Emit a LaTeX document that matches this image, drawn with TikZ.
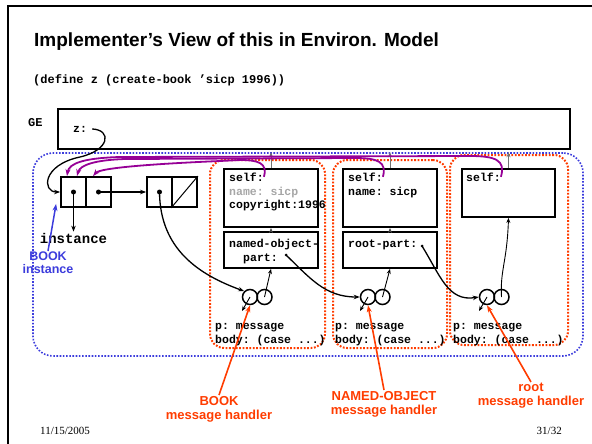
\documentclass[tikz,border=0pt]{standalone}
\usepackage{fontspec}
\setmainfont{Liberation Sans}
\setmonofont{Liberation Mono}
\newfontfamily\footfont{Liberation Serif}
\usetikzlibrary{arrows.meta}

\definecolor{envblue}{RGB}{60,60,220}
\definecolor{hred}{RGB}{255,60,0}
\definecolor{selfpurple}{RGB}{150,0,150}

\begin{document}
\begin{tikzpicture}[x=1pt,y=-1pt,
  box/.style={draw, line width=1.8pt, inner sep=0pt},
  code/.style={font=\ttfamily\bfseries\fontsize{11.5}{13}\selectfont, inner sep=0pt, anchor=base west},
  ptr/.style={-{Stealth[length=6pt,width=4.5pt]}, line width=1.3pt},
  thin ptr/.style={-{Stealth[length=5pt,width=4pt]}, line width=0.9pt},
  up ptr/.style={-{Stealth[length=5pt,width=4pt]}, line width=1pt, draw=black!55},
  self ptr/.style={-{Stealth[length=7pt,width=5pt]}, line width=1.8pt, draw=selfpurple},
  red ptr/.style={-{Stealth[length=7pt,width=5pt]}, line width=1.6pt, draw=hred},
  blue ptr/.style={-{Stealth[length=7pt,width=5pt]}, line width=1.5pt, draw=envblue},
  handler/.style={circle, draw, line width=1.5pt, minimum size=15pt, inner sep=0pt},
  ptrdot/.style={circle, fill, inner sep=0pt, minimum size=5pt},
  envbox/.style={draw=envblue, line width=1.6pt, dash pattern=on 1.6pt off 1.6pt, rounded corners=20pt, inner sep=0pt},
  handlerbox/.style={draw=hred, line width=2pt, dash pattern=on 1.8pt off 1.6pt, rounded corners=14pt, inner sep=0pt},
  redlab/.style={text=hred, font=\bfseries\fontsize{13}{14}\selectfont, align=center, inner sep=1pt, anchor=north},
]
\useasboundingbox (0,0) rectangle (592,444);

% slide frame
\draw[line width=2pt] (592,6) -- (8,6) -- (8,444);

% heading and expression
\node[anchor=base west, inner sep=0pt, font=\bfseries\fontsize{19}{22}\selectfont] (title) at (34,47) {Implementer’s View of this in Environ. Model};
\node[code, font=\ttfamily\bfseries\fontsize{12}{14}\selectfont] (expr) at (33,84) {(define z (create-book ’sicp 1996))};

% global environment
\node[code, font=\ttfamily\bfseries\fontsize{12}{14}\selectfont] (gelab) at (28,126) {GE};
\node[box, minimum width=512pt, minimum height=40pt] (ge) at (314,129) {};
\node[code] (zlab) at (73,132) {z:};

% environment regions
\node[envbox, minimum width=550pt, minimum height=203pt] (env) at (308,254.5) {};
\node[handlerbox, minimum width=115pt, minimum height=188pt] (rA) at (267.5,254) {};
\node[handlerbox, minimum width=114pt, minimum height=188pt] (rC) at (390,254) {};
\node[handlerbox, minimum width=118pt, minimum height=190pt] (rE) at (509,250) {};

% pairs
\node[box, minimum width=25pt, minimum height=30pt] (p1a) at (73.5,192) {};
\node[box, minimum width=25pt, minimum height=30pt] (p1b) at (98.5,192) {};
\node[box, minimum width=25pt, minimum height=30pt] (p2a) at (159.5,192) {};
\node[box, minimum width=25pt, minimum height=30pt] (p2b) at (184.5,192) {};
\draw[line width=1pt] (p2b.south west) -- (p2b.north east);
\node[ptrdot] (d1a) at (p1a.center) {};
\node[ptrdot] (d1b) at (p1b.center) {};
\node[ptrdot] (d2a) at (p2a.center) {};

\node[anchor=base, inner sep=1pt, font=\ttfamily\bfseries\fontsize{14}{16}\selectfont] (inst) at (73.5,243) {instance};
\node[text=envblue, font=\bfseries\fontsize{12.5}{12.5}\selectfont, align=center, inner sep=1pt, anchor=north] (bookinst) at (48,251) {BOOK\\instance};

% frames
\node[box, minimum width=94pt, minimum height=58pt] (fA) at (271,198) {};
\node[box, minimum width=94pt, minimum height=36pt] (pA) at (271,250) {};
\node[box, minimum width=94pt, minimum height=58pt] (fC) at (390,198) {};
\node[box, minimum width=94pt, minimum height=36pt] (pC) at (390,250) {};
\node[box, minimum width=93pt, minimum height=48pt] (fE) at (508.5,193) {};

\node[code] (sA) at (229,181) {self:};
\node[code, text=black!35] (nA) at (229,195) {name: sicp};
\node[code] (cA) at (229,208) {copyright:1996};
\node[code] (noA) at (229,247) {named-object-};
\node[code] (partA) at (243,261) {part:};
\node[code] (sC) at (348,181) {self:};
\node[code] (nC) at (348,195) {name: sicp};
\node[code] (partC) at (348,247) {root-part:};
\node[code] (sE) at (466,181) {self:};
\node[ptrdot, minimum size=3pt] (dA) at (286,255) {};
\node[ptrdot, minimum size=3pt] (dC) at (422,246) {};

% procedure objects
\node[handler] (h1a) at (250,297) {};
\node[handler] (h1b) at (264.5,297) {};
\node[handler] (h2a) at (368,297) {};
\node[handler] (h2b) at (382.5,297) {};
\node[handler] (h3a) at (487,297) {};
\node[handler] (h3b) at (501.5,297) {};

\node[code] (pa1) at (215,329) {p: message};
\node[code] (ba1) at (215,343) {body: (case ...)};
\node[code] (pa2) at (335,329) {p: message};
\node[code] (ba2) at (335,343) {body: (case ...)};
\node[code] (pa3) at (453,329) {p: message};
\node[code] (ba3) at (453,343) {body: (case ...)};

% pointers
\draw[ptr] ([xshift=5pt]zlab.east) .. controls (112,130) and (110,150) .. (80,157) .. controls (42,165) and (42,192) .. (p1a.west);
\draw[ptr] (d1b.center) -- (p2a.west);
\draw[ptr] (d1a.center) -- (inst.north);
\draw[ptr] (d2a.center) .. controls (160,250) and (200,275) .. (h1a.north west);
\draw[ptr] (dA.center) .. controls (310,278) and (325,297) .. (h2a.west);
\draw[ptr] (dC.center) .. controls (440,275) and (448,302) .. (h3a.west);

\draw[thin ptr] (h1a.center) -- ([xshift=-8pt,yshift=-14pt]h1a.center);
\draw[thin ptr] (h2a.center) -- ([xshift=-8pt,yshift=-14pt]h2a.center);
\draw[thin ptr] (h3a.center) -- ([xshift=-8pt,yshift=-14pt]h3a.center);
\draw[thin ptr] (h1b.center) -- (pA.south);
\draw[thin ptr] (h2b.center) -- (pC.south);
\draw[thin ptr] (h3b.center) .. controls (500,270) and (507,262) .. (fE.south);

\draw[thin ptr, draw=black!70] (pA.north) -- (fA.south);
\draw[thin ptr, draw=black!70] (pC.north) -- (fC.south);
\draw[up ptr] (fA.north) -- (fA.north |- env.north);
\draw[up ptr] (fC.north) -- (fC.north |- env.north);
\draw[up ptr] (fE.north) -- (fE.north |- env.north);

% self pointers
\draw[self ptr] (sE.east) .. controls (506,160) and (495,156) .. (470,156) -- (120,157) .. controls (85,158) and (69,163) .. ([xshift=-6.5pt]p1a.north);
\draw[self ptr] (sC.east) .. controls (387,162) and (378,158) .. (355,158) -- (125,159) .. controls (95,160) and (80,165) .. ([xshift=3.5pt]p1a.north);
\draw[self ptr] (sA.east) .. controls (268,163) and (258,160) .. (240,160) -- (220,161) .. controls (150,164) and (100,168) .. ([xshift=-5.5pt]p1b.north);

\draw[blue ptr] (bookinst.north) -- ([xshift=-4pt,yshift=4pt]p1a.south west);

% handler labels
\node[redlab] (lbook) at (219,395) {BOOK\\message handler};
\node[redlab] (lnamed) at (384,390) {NAMED-OBJECT\\message handler};
\node[redlab] (lroot) at (531,382) {root\\message handler};
\draw[red ptr] (lbook.north) -- (h1a.south);
\draw[red ptr] (lnamed.north) -- (h2a.south);
\draw[red ptr] (lroot.north) -- (h3a.south);

% footer
\node[anchor=base west, inner sep=0pt, font=\footfont\fontsize{11}{13}\selectfont] (date) at (40,434) {11/15/2005};
\node[anchor=base east, inner sep=0pt, font=\footfont\fontsize{11}{13}\selectfont] (page) at (562,434) {31/32};
\end{tikzpicture}
\end{document}
